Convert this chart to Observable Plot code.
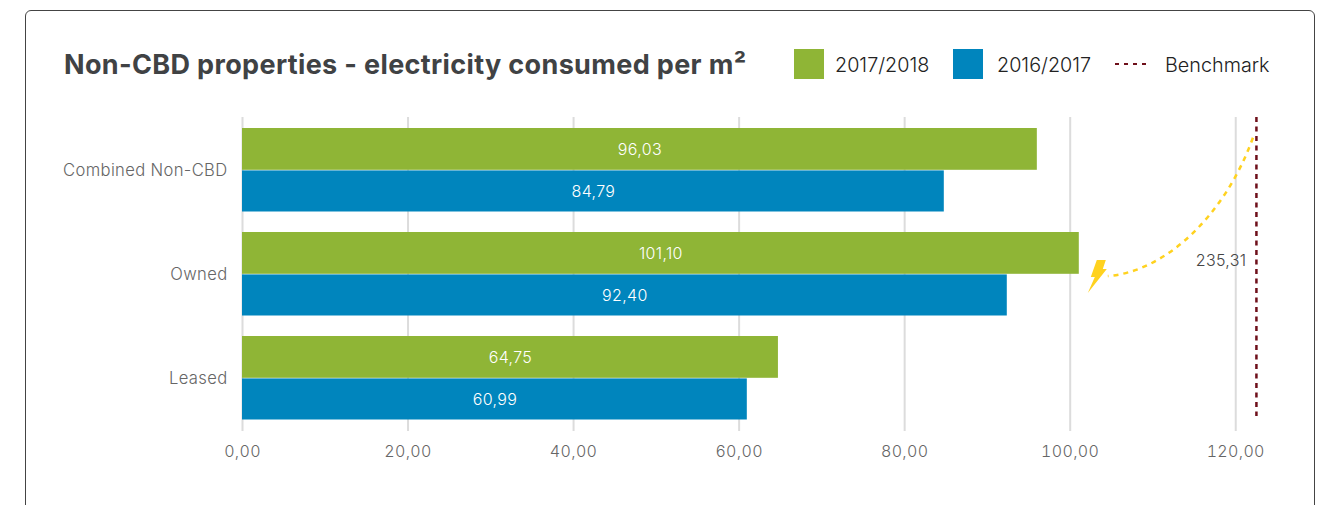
<!DOCTYPE html>
<html>
<head>
<meta charset="utf-8">
<script src="https://cdn.jsdelivr.net/npm/d3@7"></script>
<script src="https://cdn.jsdelivr.net/npm/@observablehq/plot@0.6"></script>
<style>
  html, body { margin: 0; padding: 0; background: #fff; }
  body { width: 1326px; height: 505px; overflow: hidden; position: relative; font-family: Inter, sans-serif; }
  #card { position: absolute; left: 25px; top: 10px; width: 1290px; height: 520px; border: 1.5px solid #444; border-radius: 6px; box-sizing: border-box; }
  #title { position: absolute; left: 64px; top: 47px; font-size: 27px; font-weight: 700; color: #404244; white-space: nowrap; line-height: 36px; letter-spacing: .35px; }
  .swatch { position: absolute; top: 49px; width: 30px; height: 30px; }
  .key { position: absolute; top: 52px; font-size: 19.8px; font-weight: 300; line-height: 26px; color: #222; white-space: nowrap; }
  #bench-key { position: absolute; left: 1115px; top: 60px; }
  #chart { position: absolute; left: 0; top: 100px; }
  #chart svg { background: transparent; }
  #chart text { letter-spacing: .35px; font-weight: 300; }
</style>
</head>
<body>
<div id="card"></div>
<div id="title">Non-CBD properties - electricity consumed per m²</div>
<div class="swatch" style="left:794px;background:#8fb536"></div>
<div class="key" style="left:835px">2017/2018</div>
<div class="swatch" style="left:953px;background:#0085bd"></div>
<div class="key" style="left:997px">2016/2017</div>
<svg id="bench-key" width="34" height="8"><line x1="0" x2="32" y1="4" y2="4" stroke="#6e0f1a" stroke-width="2" stroke-dasharray="4 5"/></svg>
<div class="key" style="left:1165px">Benchmark</div>
<div id="chart"></div>
<script>
// Electricity consumed per square metre, by property group and year.
const categories = ["Combined Non-CBD", "Owned", "Leased"];
const values2017 = [96.03, 101.10, 64.75];
const values2016 = [84.79, 92.40, 60.99];
const xTicks = [0, 20, 40, 60, 80, 100, 120];
const benchmarkLabel = "235,31";
// The benchmark lies off the axis, so its line sits at the broken end of the scale.
const benchmarkDrawnAt = [122.5];

const comma = (v) => v.toFixed(2).replace(".", ",");
const rows = (vals) => categories.map((category, i) => ({category, value: vals[i]}));
const green = "#8fb536", blue = "#0085bd", wine = "#6e0f1a", amber = "#ffd21f";

// Dashed leader and lightning bolt linking the Owned bar with the benchmark line.
function leader(index, {x, y}) {
  const band = y.bandwidth();
  const owned = y("Owned") + band / 2;
  const x0 = x(benchmarkDrawnAt[0]) - 3;
  const y0 = y("Combined Non-CBD") + band * 0.19;
  const x1 = x(values2017[1]) + 29;
  const y1 = owned + 2;
  const g = d3.create("svg:g");
  g.append("path")
    .attr("d", `M${x0},${y0}C${x0 - 28},${y0 + 78} ${x1 + 57},${y1 - 4} ${x1},${y1}`)
    .attr("fill", "none").attr("stroke", amber).attr("stroke-width", 2.5)
    .attr("stroke-dasharray", "5 5");
  const bx = x(values2017[1]) + 18, by = owned - 14;
  g.append("path")
    .attr("d", `M${bx},${by}h9l-3,9h4l-19,24l7,-16h-4z`)
    .attr("fill", amber);
  return g.node();
}

const plot = Plot.plot({
  width: 1326,
  height: 370,
  marginLeft: 242,
  marginRight: 8,
  marginTop: 17,
  marginBottom: 39,
  style: {fontFamily: "Inter, sans-serif", fontSize: "16px", background: "transparent"},
  x: {domain: [0, 130]},
  y: {domain: categories, padding: 0, label: null},
  marks: [
    Plot.gridX(xTicks, {stroke: "#dcdcdc", strokeWidth: 2, strokeOpacity: 1}),
    Plot.barX(rows(values2017), {x: "value", y: "category", fill: green, insetTop: 10, insetBottom: 52.2}),
    Plot.barX(rows(values2016), {x: "value", y: "category", fill: blue, insetTop: 52.4, insetBottom: 10.5}),
    Plot.text(rows(values2017), {x: (d) => d.value / 2, y: "category", text: (d) => comma(d.value), dy: -21, fill: "#fff", fontSize: 16}),
    Plot.text(rows(values2016), {x: (d) => d.value / 2, y: "category", text: (d) => comma(d.value), dy: 21, fill: "#fff", fontSize: 16}),
    Plot.ruleX(benchmarkDrawnAt, {stroke: wine, strokeWidth: 2.5, strokeDasharray: "5 4.5", insetBottom: 15}),
    leader,
    Plot.text([benchmarkLabel], {x: () => 121.3, y: () => "Owned", text: (d) => d, textAnchor: "end", dy: -14, fill: "#444", fontSize: 16}),
    Plot.axisX({ticks: xTicks, tickFormat: comma, tickSize: 0, tickPadding: 14, fill: "#666", fontSize: 16, label: null}),
    Plot.axisY({tickSize: 0, tickPadding: 15, fill: "#666", fontSize: 16.6, label: null})
  ]
});
document.getElementById("chart").appendChild(plot);
</script>
</body>
</html>
